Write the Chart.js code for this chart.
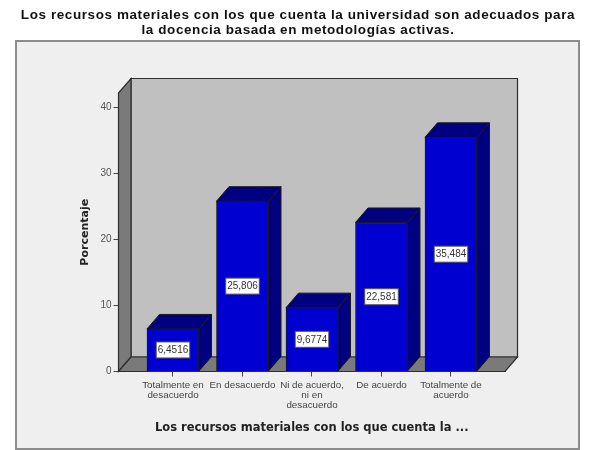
<!DOCTYPE html>
<html>
<head>
<meta charset="utf-8">
<style>
  html, body { margin: 0; padding: 0; background: #fff; }
  canvas { display: block; }
</style>
<script src="https://cdn.jsdelivr.net/npm/chart.js@4"></script>
</head>
<body>
<canvas id="chart" width="592" height="450"></canvas>
<script>
const tituloLineas = [
  "Los recursos materiales con los que cuenta la universidad son adecuados para",
  "la docencia basada en metodologías activas.",
];
const tickLabels = [
  ["Totalmente en", "desacuerdo"],
  ["En desacuerdo"],
  ["Ni de acuerdo,", "ni en", "desacuerdo"],
  ["De acuerdo"],
  ["Totalmente de", "acuerdo"],
];
const porcentaje = [6.4516, 25.806, 9.6774, 22.581, 35.484];
const yTicks = [0, 10, 20, 30, 40];

const depthX = 12.5; // 3D offset
const depthY = 14.5;

function poly(ctx, pts, fill) {
  ctx.beginPath();
  pts.forEach((p, i) => (i ? ctx.lineTo(p[0], p[1]) : ctx.moveTo(p[0], p[1])));
  ctx.closePath();
  ctx.fillStyle = fill;
  ctx.fill();
  ctx.stroke();
}

const box3d = {
  id: "box3d",
  beforeDraw(chart) {
    const ctx = chart.ctx;
    ctx.save();
    ctx.fillStyle = "#efefef";
    ctx.strokeStyle = "#8c8c8c";
    ctx.lineWidth = 2;
    ctx.fillRect(16, 41, 563, 408);
    ctx.strokeRect(16, 41, 563, 408);
    // the title is wider than the layout box, so it goes here
    ctx.fillStyle = "#111";
    ctx.font = "bold 13.5px 'Liberation Sans'";
    ctx.letterSpacing = "0.58px";
    ctx.textAlign = "center";
    ctx.textBaseline = "middle";
    tituloLineas.forEach((line, i) => ctx.fillText(line, 298, 15.5 + i * 15));
    ctx.restore();
  },
  beforeDatasetsDraw(chart) {
    const ctx = chart.ctx;
    const { left, right, top, bottom } = chart.chartArea;
    ctx.save();
    ctx.strokeStyle = "#2e2e2e";
    ctx.lineWidth = 1.2;
    // back wall
    poly(ctx, [[left + depthX, top - depthY], [right + depthX, top - depthY],
      [right + depthX, bottom - depthY], [left + depthX, bottom - depthY]], "#c0c0c0");
    // left wall
    poly(ctx, [[left, top], [left + depthX, top - depthY],
      [left + depthX, bottom - depthY], [left, bottom]], "#7a7a7a");
    // floor
    poly(ctx, [[left, bottom], [left + depthX, bottom - depthY],
      [right + depthX, bottom - depthY], [right, bottom]], "#7a7a7a");
    ctx.restore();
  },
  afterDatasetsDraw(chart) {
    const ctx = chart.ctx;
    const meta = chart.getDatasetMeta(0);
    ctx.save();
    ctx.strokeStyle = "#1a1a1a";
    ctx.lineWidth = 1;
    meta.data.forEach((bar, i) => {
      const half = bar.width / 2;
      const l = bar.x - half;
      const r = bar.x + half;
      poly(ctx, [[l, bar.y], [l + depthX, bar.y - depthY],
        [r + depthX, bar.y - depthY], [r, bar.y]], "#000080");
      poly(ctx, [[r, bar.y], [r + depthX, bar.y - depthY],
        [r + depthX, bar.base - depthY], [r, bar.base]], "#000080");

      // value label in a white box
      const text = String(porcentaje[i]).replace(".", ",");
      const mid = (bar.y + bar.base) / 2;
      ctx.font = "10px 'Liberation Sans'";
      const w = ctx.measureText(text).width + 3;
      ctx.fillStyle = "#fff";
      ctx.fillRect(bar.x - w / 2, mid - 8, w, 16);
      ctx.strokeStyle = "#555";
      ctx.strokeRect(bar.x - w / 2, mid - 8, w, 16);
      ctx.strokeStyle = "#1a1a1a";
      ctx.fillStyle = "#333";
      ctx.textAlign = "center";
      ctx.textBaseline = "middle";
      ctx.fillText(text, bar.x, mid + 0.5);
    });
    ctx.restore();
  },
};

new Chart(document.getElementById("chart"), {
  type: "bar",
  data: {
    datasets: [
      {
        label: "Porcentaje",
        data: porcentaje.map((v, i) => ({ x: i, y: v })),
        backgroundColor: "#0000d0",
        borderColor: "#1a1a1a",
        borderWidth: 1,
        barThickness: 52,
      },
    ],
  },
  plugins: [box3d],
  options: {
    responsive: false,
    animation: false,
    layout: { padding: { left: 79, right: 87, top: 93, bottom: 15 } },
    scales: {
      x: {
        type: "linear",
        offset: false,
        min: -0.784,
        max: 4.777,
        afterBuildTicks: (scale) => {
          scale.ticks = tickLabels.map((t, i) => ({ value: i }));
        },
        afterFit: (scale) => {
          scale.height = 63.5;
        },
        border: { display: true, color: "#2e2e2e", width: 1 },
        grid: { offset: false, drawOnChartArea: false, drawTicks: true, tickLength: 5, color: "#444" },
        ticks: {
          autoSkip: false,
          maxRotation: 0,
          padding: 3.5,
          color: "#444",
          font: { family: "'Liberation Sans'", size: 9.8, lineHeight: 1.02 },
          callback: (value) => tickLabels[value],
        },
        title: {
          display: true,
          text: "Los recursos materiales con los que cuenta la ...",
          color: "#222",
          font: { family: "'DejaVu Sans'", weight: "bold", size: 11.5 },
          padding: 0,
        },
      },
      y: {
        min: 0,
        max: 42.2,
        afterBuildTicks: (scale) => {
          scale.ticks = yTicks.map((v) => ({ value: v }));
        },
        afterFit: (scale) => {
          scale.width = 39.5;
        },
        border: { display: true, color: "#2e2e2e", width: 1 },
        grid: { drawOnChartArea: false, drawTicks: true, tickLength: 5, color: "#444" },
        ticks: {
          padding: 2,
          color: "#555",
          font: { family: "'Liberation Sans'", size: 10 },
        },
        title: {
          display: true,
          text: "Porcentaje",
          color: "#222",
          font: { family: "'DejaVu Sans'", weight: "bold", size: 11 },
          padding: 0,
        },
      },
    },
    plugins: {
      legend: { display: false },
      tooltip: { enabled: false },
    },
  },
});
</script>
</body>
</html>
